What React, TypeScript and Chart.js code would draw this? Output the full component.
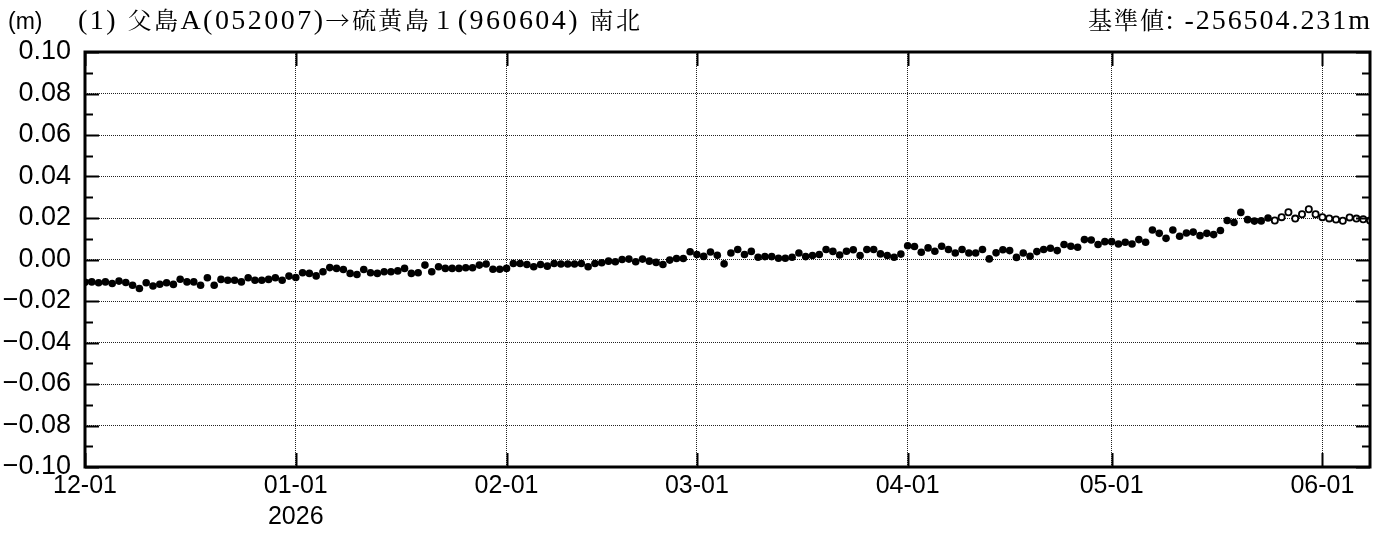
import { useEffect, useRef } from "react";
import { Chart, registerables } from "chart.js";

Chart.register(...registerables);

// ---- data (daily values, metres, from 2025-12-01) ----
const startDate = "2025-12-01";
const monthTickDays = [0, 31, 62, 90, 121, 151, 182];
const monthTickLabels = ["12-01", "01-01", "02-01", "03-01", "04-01", "05-01", "06-01"];
const yearLabels = ["", "2026", "", "", "", "", ""];
const xMaxDay = 189;
const yMin = -0.1;
const yMax = 0.1;
const yStep = 0.02;
const yMinorStep = 0.01;

const titleUnit = "(m)";
const titleText = "(1) 父島A(052007)→硫黄島１(960604) 南北";
const baseText = "基準値: -256504.231m";

// final solutions (filled): 2025-12-01 .. 2026-05-24
const finalValues = [
  // Dec
  -0.0110, -0.0108, -0.0112, -0.0108, -0.0116, -0.0104, -0.0111, -0.0124, -0.0140, -0.0112,
  -0.0128, -0.0119, -0.0112, -0.0120, -0.0095, -0.0108, -0.0108, -0.0124, -0.0088, -0.0124,
  -0.0096, -0.0100, -0.0100, -0.0108, -0.0088, -0.0100, -0.0100, -0.0096, -0.0088, -0.0100,
  -0.0080,
  // Jan
  -0.0087, -0.0064, -0.0067, -0.0079, -0.0059, -0.0039, -0.0043, -0.0048, -0.0067, -0.0072,
  -0.0048, -0.0064, -0.0067, -0.0059, -0.0059, -0.0055, -0.0043, -0.0067, -0.0064, -0.0027,
  -0.0059, -0.0035, -0.0043, -0.0043, -0.0043, -0.0040, -0.0040, -0.0027, -0.0022, -0.0047,
  -0.0047,
  // Feb
  -0.0043, -0.0019, -0.0019, -0.0024, -0.0035, -0.0024, -0.0032, -0.0019, -0.0022, -0.0022,
  -0.0022, -0.0019, -0.0035, -0.0019, -0.0016, -0.0008, -0.0011, 0.0000, 0.0002, -0.0011,
  0.0002, -0.0008, -0.0014, -0.0024, -0.0003, 0.0005, 0.0005, 0.0037,
  // Mar
  0.0024, 0.0015, 0.0036, 0.0020, -0.0021, 0.0031, 0.0048, 0.0024, 0.0039, 0.0011,
  0.0014, 0.0014, 0.0006, 0.0006, 0.0011, 0.0031, 0.0014, 0.0019, 0.0024, 0.0048,
  0.0039, 0.0022, 0.0040, 0.0047, 0.0019, 0.0048, 0.0048, 0.0027, 0.0019, 0.0011,
  0.0026,
  // Apr
  0.0066, 0.0063, 0.0035, 0.0056, 0.0040, 0.0064, 0.0048, 0.0031, 0.0048, 0.0031,
  0.0031, 0.0048, 0.0003, 0.0032, 0.0047, 0.0043, 0.0010, 0.0031, 0.0016, 0.0038,
  0.0048, 0.0054, 0.0043, 0.0072, 0.0064, 0.0059, 0.0096, 0.0094, 0.0072, 0.0086,
  // May 1-24
  0.0086, 0.0075, 0.0083, 0.0075, 0.0096, 0.0083, 0.0142, 0.0126, 0.0102, 0.0142,
  0.0112, 0.0128, 0.0132, 0.0115, 0.0126, 0.0120, 0.0140, 0.0188, 0.0178, 0.0227,
  0.0192, 0.0185, 0.0186, 0.0200,
];

// rapid solutions (open circles): 2026-05-25 .. 2026-06-08
const rapidValues = [
  0.0188, 0.0204, 0.0228, 0.0197, 0.0218, 0.0242, 0.0218,
  0.0204, 0.0198, 0.0193, 0.0187, 0.0203, 0.0197, 0.0194, 0.0188,
];

const SANS = "'Liberation Sans', Arial, sans-serif";
const SERIF_LATIN = "'Liberation Serif', 'DejaVu Serif', serif";
const CJK = "'Noto Serif CJK JP', 'Noto Sans CJK JP', sans-serif";

function isCJK(c: string) {
  const code = c.codePointAt(0) || 0;
  return code >= 0x2190;
}

function drawSpread(ctx: CanvasRenderingContext2D, text: string, x0: number, x1: number, y: number) {
  const chars = Array.from(text);
  const fonts = chars.map((c) => (isCJK(c) ? `24px ${CJK}` : `28px ${SERIF_LATIN}`));
  const widths = chars.map((c, i) => {
    ctx.font = fonts[i];
    return ctx.measureText(c).width;
  });
  const total = widths.reduce((a, b) => a + b, 0);
  const gap = chars.length > 1 ? (x1 - x0 - total) / (chars.length - 1) : 0;
  let x = x0;
  chars.forEach((c, i) => {
    ctx.font = fonts[i];
    ctx.fillText(c, x, y);
    x += widths[i] + gap;
  });
}

const framePlugin = {
  id: "framePlugin",
  afterDraw(chart: any) {
    const { ctx, chartArea: a } = chart;
    const xs = chart.scales.x;
    const ys = chart.scales.y;
    ctx.save();
    ctx.strokeStyle = "#000";
    ctx.fillStyle = "#000";
    // inward ticks on y (left and right)
    ctx.lineWidth = 2;
    const n = Math.round((yMax - yMin) / yMinorStep);
    for (let i = 0; i <= n; i++) {
      const v = yMin + i * yMinorStep;
      const py = Math.round(ys.getPixelForValue(v)) + 0.5;
      const major = i % Math.round(yStep / yMinorStep) === 0;
      const len = major ? 14 : 8;
      ctx.beginPath();
      ctx.moveTo(a.left, py);
      ctx.lineTo(a.left + len, py);
      ctx.moveTo(a.right, py);
      ctx.lineTo(a.right - len, py);
      ctx.stroke();
    }
    // inward ticks on x (top and bottom)
    monthTickDays.forEach((d) => {
      const px = Math.round(xs.getPixelForValue(d)) + 0.5;
      ctx.beginPath();
      ctx.moveTo(px, a.bottom);
      ctx.lineTo(px, a.bottom - 14);
      ctx.moveTo(px, a.top);
      ctx.lineTo(px, a.top + 14);
      ctx.stroke();
    });
    // frame
    ctx.lineWidth = 3;
    ctx.strokeRect(a.left, a.top, a.right - a.left, a.bottom - a.top);

    // texts
    ctx.textBaseline = "alphabetic";
    ctx.textAlign = "left";
    ctx.font = `23px ${SANS}`;
    ctx.fillText(titleUnit, 8, 29);
    drawSpread(ctx, titleText, 78, 640, 29);
    drawSpread(ctx, baseText, 1088, 1370, 29);
    ctx.restore();
  },
};

function fmtY(v: number) {
  const r = Math.round(v * 100) / 100;
  if (Math.abs(r) < 1e-9) return "0.00";
  return (r < 0 ? "\u2212" : "") + Math.abs(r).toFixed(2);
}

export default function App() {
  const ref = useRef<HTMLCanvasElement>(null);
  useEffect(() => {
    const canvas = ref.current!;
    const nFinal = finalValues.length;
    const chart = new Chart(canvas, {
      type: "scatter",
      data: {
        datasets: [
          {
            label: "final",
            data: finalValues.map((v, i) => ({ x: i, y: v })),
            pointRadius: 3.8,
            pointBackgroundColor: "#000",
            pointBorderWidth: 0,
            showLine: false,
          },
          {
            label: "rapid",
            data: rapidValues.map((v, i) => ({ x: nFinal + i, y: v })),
            pointRadius: 3.1,
            pointBackgroundColor: "#fff",
            pointBorderColor: "#000",
            pointBorderWidth: 1.8,
            showLine: false,
          },
        ],
      },
      options: {
        responsive: false,
        animation: false,
        layout: { padding: { top: 52, right: 16, bottom: 0, left: 0 } },
        plugins: { legend: { display: false }, tooltip: { enabled: false }, title: { display: false } },
        scales: {
          x: {
            type: "linear",
            min: 0,
            max: xMaxDay,
            afterBuildTicks: (axis: any) => {
              axis.ticks = monthTickDays.map((d) => ({ value: d }));
            },
            afterFit: (axis: any) => {
              axis.height = 66;
            },
            ticks: {
              autoSkip: false,
              maxRotation: 0,
              padding: 3,
              color: "#000",
              font: { family: SANS, size: 25, lineHeight: 1.25 },
              callback: (value: any) => {
                const i = monthTickDays.indexOf(Number(value));
                if (i < 0) return "";
                return yearLabels[i] ? [monthTickLabels[i], yearLabels[i]] : monthTickLabels[i];
              },
            },
            grid: { color: "#222", lineWidth: 1, drawTicks: false },
            border: { display: false, dash: [1, 1] },
          },
          y: {
            min: yMin,
            max: yMax,
            afterFit: (axis: any) => {
              axis.width = 85;
            },
            ticks: {
              stepSize: yStep,
              padding: 14,
              color: "#000",
              font: { family: SANS, size: 27 },
              callback: (value: any) => fmtY(Number(value)),
            },
            grid: { color: "#222", lineWidth: 1, drawTicks: false },
            border: { display: false, dash: [1, 1] },
          },
        },
      },
      plugins: [framePlugin],
    } as any);
    return () => chart.destroy();
  }, []);
  return (
    <div style={{ position: "absolute", left: 0, top: 0, width: 1386, height: 533, background: "#fff" }}>
      <canvas ref={ref} width={1386} height={533} style={{ display: "block", width: 1386, height: 533 }} data-start={startDate} />
    </div>
  );
}
